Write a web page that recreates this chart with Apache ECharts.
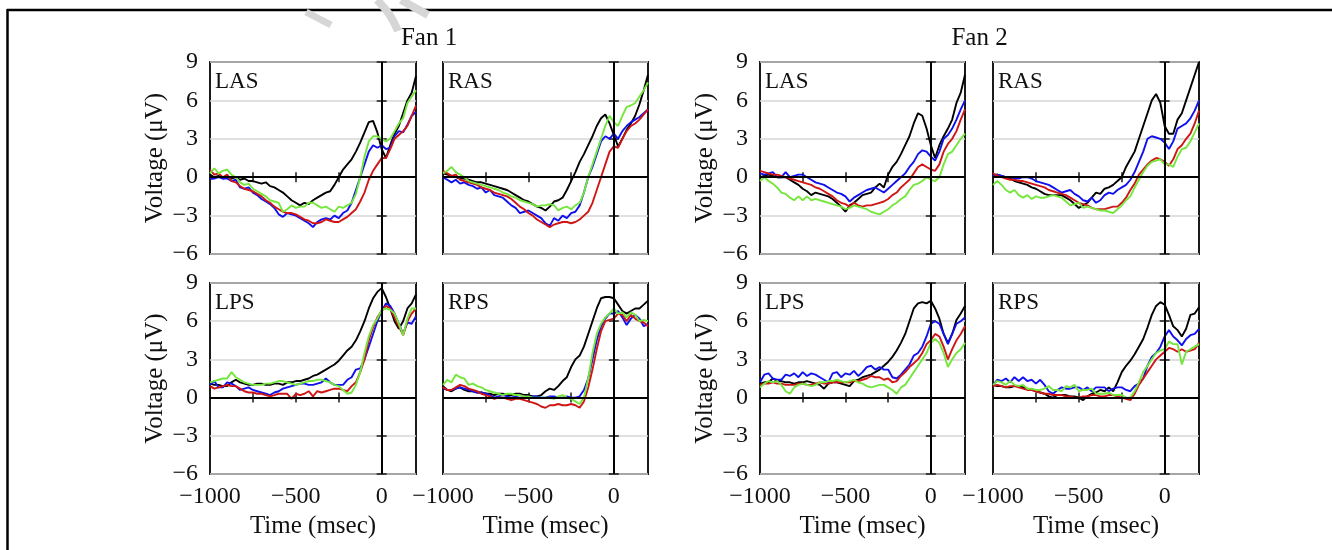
<!DOCTYPE html>
<html><head><meta charset="utf-8">
<script src="https://cdn.jsdelivr.net/npm/echarts@6/dist/echarts.min.js"></script>
<style>html,body{margin:0;padding:0;background:#fff}#c{width:1332px;height:550px}</style>
</head><body><div id="c"></div>
<script>
// ---- data ----
const timeMs = [-1000,-975,-950,-925,-900,-875,-850,-825,-800,-775,-750,-725,-700,-675,-650,-625,-600,-575,-550,-525,-500,-475,-450,-425,-400,-375,-350,-325,-300,-275,-250,-225,-200,-175,-150,-125,-100,-75,-50,-25,0,25,50,75,100,125,150,175,200];
const xTickLabels = {'-1000':'−1000','-500':'−500','0':'0'};
const yTickLabels = {'9':'9','6':'6','3':'3','0':'0','-3':'−3','-6':'−6'};
const fanTitles = ['Fan 1','Fan 2'];
const panelNames = ['LAS','RAS','LPS','RPS','LAS','RAS','LPS','RPS'];

// Fan 1 LAS
const f1LAS_black = [0.2,0.0,0.1,-0.1,0.0, -0.1,0.0,-0.2,-0.1,-0.3, -0.3,-0.4,-0.5,-0.4,-0.7, -0.8,-1.0,-1.2,-1.5,-1.8, -2.0,-2.2,-2.0,-2.1,-1.8, -1.6,-1.4,-1.2,-1.1,-0.6, 0.0,0.6,1.0,1.4,2.0, 2.7,3.5,4.3,4.4,3.5, 2.2,1.5,2.5,3.4,4.0, 5.0,6.0,6.6,7.9];
const f1LAS_blue  = [-0.15,-0.1,0.0,-0.1,-0.1, -0.3,-0.2,-0.8,-0.9,-0.8, -1.2,-1.4,-1.7,-1.9,-2.1, -2.4,-2.9,-3.1,-2.8,-2.9, -3.0,-3.2,-3.4,-3.6,-3.9, -3.5,-3.3,-3.2,-3.3,-3.0, -3.2,-2.8,-2.6,-2.0,-1.0, 0.0,1.0,2.0,2.5,2.3, 2.5,2.2,2.3,3.2,3.6, 3.5,4.1,4.8,5.1];
const f1LAS_red   = [0.6,0.2,0.3,0.0,0.2, -0.3,-0.4,-0.7,-0.9,-1.0, -1.1,-1.3,-1.5,-1.8,-2.0, -2.3,-2.5,-2.7,-2.8,-2.8, -2.9,-3.1,-3.3,-3.4,-3.6, -3.6,-3.5,-3.3,-3.4,-3.5, -3.5,-3.3,-3.1,-2.8,-2.5, -1.9,-1.2,-0.2,0.5,1.0, 1.5,1.5,2.2,3.0,3.3, 3.6,4.0,4.8,5.6];
const f1LAS_green = [0.3,0.7,0.3,0.5,0.6, 0.2,0.0,-0.4,-0.6,-0.5, -0.9,-1.1,-1.3,-1.5,-1.8, -1.9,-2.0,-2.7,-2.5,-2.2, -2.4,-2.3,-2.3,-2.0,-2.0, -2.2,-2.4,-2.3,-2.5,-2.7, -2.3,-2.4,-2.2,-2.0,-1.3, 0.0,1.6,2.8,3.2,3.2, 3.0,2.8,3.0,3.6,4.2, 4.6,5.8,6.3,6.8];
// Fan 1 RAS
const f1RAS_black = [0.3,0.2,0.1,0.0,-0.1, -0.1,-0.2,-0.3,-0.4,-0.4, -0.5,-0.6,-0.7,-0.8,-0.9, -1.0,-1.2,-1.4,-1.6,-1.8, -1.9,-2.1,-2.3,-2.4,-2.6, -2.3,-1.9,-1.8,-1.6,-1.0, -0.3,0.4,1.2,1.8,2.5, 3.2,4.0,4.6,4.9,4.2, 3.3,2.4,3.0,3.7,4.2, 4.8,5.7,6.8,8.0];
const f1RAS_blue  = [0.0,-0.2,-0.4,-0.2,-0.5, -0.4,-0.6,-0.7,-0.9,-0.8, -1.2,-1.0,-1.4,-1.5,-1.6, -1.9,-2.2,-2.4,-2.8,-2.7, -2.6,-2.8,-3.0,-3.2,-3.6, -3.8,-3.2,-3.4,-3.0,-3.2, -2.8,-2.7,-2.2,-1.2,0.0, 0.8,1.8,2.8,3.2,3.0, 3.4,3.0,3.6,4.0,4.3, 4.5,4.7,5.0,5.3];
const f1RAS_red   = [0.5,0.3,0.1,0.2,-0.2, -0.3,-0.4,-0.5,-0.6,-0.8, -0.9,-1.0,-1.2,-1.3,-1.4, -1.5,-1.7,-2.0,-2.3,-2.5, -2.8,-3.0,-3.3,-3.5,-3.7, -3.9,-3.7,-3.6,-3.5,-3.5, -3.6,-3.5,-3.3,-3.0,-2.7, -2.0,-1.0,0.0,1.0,2.0, 2.4,2.3,3.0,3.6,4.0, 4.2,4.5,4.9,5.3];
const f1RAS_green = [0.3,0.5,0.8,0.4,0.2, 0.0,-0.3,-0.4,-0.5,-0.6, -0.7,-0.8,-0.9,-1.0,-1.2, -1.3,-1.5,-1.6,-1.8,-1.9, -2.0,-2.1,-2.3,-2.2,-2.2, -2.1,-2.2,-2.6,-2.4,-2.3, -2.5,-2.2,-2.0,-1.2,0.0, 1.0,2.0,3.0,4.0,4.8, 4.3,4.0,4.8,5.5,5.6, 5.8,6.3,6.8,7.4];
// Fan 1 LPS
const f1LPS_black = [1.1,1.0,1.0,0.9,0.9, 1.2,1.4,1.2,1.1,1.0, 1.0,1.1,1.1,1.0,1.0, 1.1,1.1,1.0,1.2,1.2, 1.3,1.3,1.4,1.5,1.7, 1.8,2.0,2.2,2.4,2.6, 2.9,3.3,3.7,4.0,4.5, 5.2,6.0,7.0,7.8,8.3, 8.6,7.9,7.0,6.0,5.4, 6.0,7.0,7.4,8.1];
const f1LPS_blue  = [1.0,1.3,0.8,0.8,1.2, 1.1,0.9,0.6,0.7,0.8, 0.6,0.5,0.4,0.3,0.2, 0.4,0.5,0.7,0.8,0.9, 1.0,1.1,1.1,1.0,1.0, 1.1,1.2,1.5,1.2,1.0, 1.0,1.0,1.4,1.6,2.2, 2.3,3.0,4.0,5.0,6.0, 6.8,7.4,7.2,6.6,5.8, 5.0,5.9,5.8,6.4];
const f1LPS_red   = [0.9,0.7,0.8,0.9,1.0, 0.9,0.9,0.7,0.5,0.4, 0.4,0.3,0.3,0.2,0.1, 0.2,0.3,0.3,0.3,-0.1, 0.3,0.2,0.3,0.5,0.1, 0.5,0.4,0.5,0.6,0.7, 0.7,0.6,0.5,0.9,1.2, 2.0,3.0,4.5,5.5,6.3, 6.8,7.2,7.0,6.3,5.6, 4.9,6.0,6.6,7.0];
const f1LPS_green = [1.2,1.3,1.4,1.5,1.5, 2.0,1.6,1.4,1.2,1.1, 1.0,1.0,1.0,1.1,1.1, 1.2,1.3,1.3,1.2,1.1, 1.0,1.1,1.2,1.3,1.3, 1.4,1.4,1.3,1.2,1.0, 0.9,0.6,0.3,0.4,1.0, 2.0,3.5,4.8,5.7,6.2, 6.9,7.0,6.9,6.6,5.8, 4.9,6.2,7.0,7.0];
// Fan 1 RPS
const f1RPS_black = [0.9,0.6,0.5,0.7,0.8, 0.6,0.5,0.5,0.4,0.4, 0.3,0.3,0.2,0.3,0.3, 0.2,0.2,0.3,0.3,0.2, 0.2,0.1,0.1,0.2,0.5, 0.7,0.6,0.9,1.3,1.6, 2.4,3.0,3.3,4.0,5.0, 6.0,7.0,7.8,7.9,7.9, 7.8,7.3,6.8,6.6,6.8, 7.0,7.0,7.3,7.6];
const f1RPS_blue  = [0.7,0.6,0.6,0.7,0.8, 0.7,0.6,0.5,0.4,0.4, 0.3,0.2,0.0,0.1,0.2, 0.1,0.0,0.1,0.2,0.1, 0.0,0.1,0.1,0.0,0.0, 0.1,0.1,0.0,0.0,0.1, 0.0,0.0,0.1,0.6,1.5, 3.0,4.5,5.6,6.2,6.6, 6.6,6.8,6.3,5.7,6.2, 6.5,6.2,5.6,5.8];
const f1RPS_red   = [0.8,0.6,0.6,0.8,1.0, 0.9,0.7,0.6,0.5,0.3, 0.2,0.1,-0.1,0.0,0.0, -0.1,-0.2,-0.1,-0.1,-0.2, -0.3,-0.4,-0.5,-0.7,-0.8, -0.6,-0.6,-0.5,-0.6,-0.6, -0.5,-0.6,-0.8,-0.3,0.8, 2.2,3.8,5.2,6.0,6.1, 6.2,6.6,6.5,6.0,6.5, 6.2,6.0,5.9,5.6];
const f1RPS_green = [1.0,1.4,1.2,1.8,1.6, 1.5,1.0,1.1,0.9,0.8, 0.6,0.5,0.4,0.3,0.2, 0.3,0.3,0.2,0.2,0.1, 0.1,0.0,0.0,0.0,0.0, 0.0,-0.1,0.1,0.2,0.0, -0.1,-0.3,-0.5,0.0,1.5, 3.5,5.0,5.8,6.3,6.6, 7.0,6.6,6.7,6.3,6.7, 6.5,6.0,6.1,6.0];
// Fan 2 LAS
const f2LAS_black = [0.0,0.1,0.2,0.1,0.0, 0.0,0.0,-0.2,-0.4,-0.6, -0.9,-1.1,-1.4,-1.2,-1.3, -1.4,-1.5,-1.7,-2.0,-2.3, -2.7,-2.2,-2.0,-1.7,-1.4, -1.3,-1.2,-0.8,-0.5,-0.8, 0.2,0.8,1.2,1.8,2.5, 3.2,4.2,5.0,4.8,3.8, 2.5,1.5,2.5,3.2,3.8, 4.5,5.8,6.6,8.0];
const f2LAS_blue  = [0.3,0.2,0.3,0.4,0.0, 0.0,0.4,0.0,0.1,0.2, 0.2,0.0,-0.2,-0.4,-0.5, -0.6,-0.8,-1.0,-1.2,-1.3, -1.5,-1.9,-1.6,-1.4,-1.2, -1.0,-0.9,-0.8,-1.0,-1.2, -0.9,-0.6,-0.3,0.0,0.3, 0.8,1.2,1.8,2.1,2.0, 1.6,1.3,2.0,3.0,3.3, 3.8,4.5,5.3,6.0];
const f2LAS_red   = [0.5,0.4,0.3,0.2,0.2, 0.1,0.0,-0.1,-0.2,-0.3, -0.4,-0.5,-0.6,-0.8,-0.9, -1.1,-1.3,-1.5,-1.8,-2.0, -2.1,-2.3,-2.0,-2.2,-2.3, -2.2,-2.2,-2.1,-2.0,-1.9, -1.7,-1.4,-1.2,-0.8,-0.5, -0.2,0.3,0.8,1.0,0.8, 0.6,0.5,1.0,2.0,2.6, 3.0,3.6,4.5,5.3];
const f2LAS_green = [-0.3,0.0,-0.3,-0.5,-0.8, -1.2,-1.3,-1.6,-1.8,-1.5, -1.8,-1.5,-1.8,-1.7,-1.8, -1.9,-2.0,-2.1,-2.2,-2.3, -2.5,-2.4,-2.2,-2.3,-2.4, -2.5,-2.7,-2.8,-2.9,-2.7, -2.5,-2.2,-2.0,-1.7,-1.5, -1.0,-0.6,-0.5,-0.3,0.0, -0.2,-0.3,0.0,1.0,1.8, 2.0,2.5,3.0,3.4];
// Fan 2 RAS
const f2RAS_black = [0.2,0.2,0.1,0.0,-0.1, -0.3,-0.4,-0.5,-0.6,-0.8, -0.9,-1.1,-1.3,-1.4,-1.4, -1.4,-1.4,-1.6,-1.8,-2.1, -2.4,-2.2,-2.0,-1.6,-1.2, -1.3,-0.9,-0.8,-0.6,-0.3, 0.0,0.8,1.4,2.0,3.0, 4.0,5.0,6.0,6.5,5.8, 4.0,3.4,3.4,4.5,5.0, 6.0,7.0,8.0,9.0];
const f2RAS_blue  = [0.1,0.2,0.1,0.0,0.0, -0.1,-0.1,0.0,0.0,-0.1, -0.3,-0.4,-0.5,-0.6,-0.8, -1.0,-1.2,-1.1,-1.0,-1.3, -1.5,-1.8,-1.9,-1.6,-2.0, -1.8,-1.4,-1.2,-1.3,-1.0, -0.8,-0.6,-0.2,0.4,1.2, 2.0,3.0,3.2,3.1,3.0, 2.7,2.2,2.8,3.8,4.0, 4.2,4.6,5.2,6.0];
const f2RAS_red   = [0.3,0.1,0.0,-0.1,-0.2, -0.2,-0.3,-0.3,-0.4,-0.5, -0.6,-0.7,-0.8,-1.0,-1.1, -1.2,-1.3,-1.4,-1.6,-1.8, -2.0,-2.1,-2.2,-2.4,-2.5, -2.5,-2.5,-2.4,-2.3,-2.3, -2.0,-1.6,-1.0,-0.5,0.2, 0.6,1.0,1.3,1.5,1.4, 1.2,0.9,1.4,2.2,2.5, 3.0,3.4,4.2,5.2];
const f2RAS_green = [-0.6,-0.3,-0.6,-1.0,-1.2, -1.0,-1.4,-1.6,-1.4,-1.7, -1.5,-1.6,-1.6,-1.5,-1.4, -1.5,-1.6,-1.9,-2.2,-2.1, -2.0,-2.4,-2.3,-2.4,-2.5, -2.6,-2.6,-2.7,-2.8,-2.5, -2.2,-1.8,-1.5,-0.8,-0.2, 0.4,0.9,1.2,1.3,1.4, 1.0,1.0,0.8,1.6,2.2, 2.3,2.8,3.5,4.2];
// Fan 2 LPS
const f2LPS_black = [1.1,1.2,1.2,1.5,1.3, 1.3,1.2,1.2,1.1,1.2, 1.2,1.3,1.2,1.1,1.0, 0.7,1.1,1.2,1.2,1.1, 1.0,0.9,1.3,1.4,1.6, 1.7,1.8,2.0,2.2,2.5, 2.8,3.2,3.7,4.3,5.0, 6.0,7.0,7.4,7.5,7.4, 7.6,7.0,6.2,5.0,4.3, 5.0,6.1,6.6,7.2];
const f2LPS_blue  = [1.2,1.8,1.9,1.5,1.4, 1.4,1.8,1.7,1.9,1.6, 2.0,1.7,1.9,1.8,1.6, 1.4,1.2,1.9,2.0,1.6, 1.9,1.8,2.1,1.7,2.0, 2.4,2.5,2.2,2.4,2.2, 2.2,1.6,1.5,1.8,2.2, 2.6,3.3,3.5,4.0,4.8, 5.8,6.0,5.8,5.0,4.2, 5.0,5.8,6.0,6.3];
const f2LPS_red   = [1.0,1.1,1.1,1.2,1.1, 1.1,1.0,1.0,1.0,1.1, 1.1,1.0,1.0,1.1,1.2, 1.1,1.1,1.2,1.2,1.2, 1.2,1.2,1.3,1.3,1.4, 1.5,1.7,1.6,1.6,1.4, 1.5,1.2,1.3,1.7,2.0, 2.4,2.7,3.0,3.5,4.2, 4.5,5.0,4.8,4.0,3.0, 3.8,4.5,5.0,5.6];
const f2LPS_green = [0.8,1.1,1.3,1.2,1.3, 1.0,0.5,0.3,0.8,1.0, 1.1,1.0,0.9,1.0,1.2, 1.2,1.3,1.3,1.4,1.3, 1.2,1.3,1.4,1.2,1.1, 0.9,0.8,0.9,1.0,1.0, 0.8,0.6,0.3,0.8,1.0, 1.5,2.0,2.5,3.0,3.5, 4.3,4.6,4.3,3.5,2.4, 3.0,3.5,3.8,4.3];
// Fan 2 RPS
const f2RPS_black = [1.0,0.9,0.9,0.8,0.8, 0.9,0.9,0.8,0.7,0.6, 0.5,0.4,0.3,0.1,0.0, 0.2,0.2,0.2,0.1,0.1, 0.0,-0.2,0.1,0.3,0.4, 0.6,0.5,0.8,0.5,1.2, 2.0,2.5,2.9,3.4,4.0, 4.6,5.5,6.5,7.2,7.5, 7.3,6.5,5.6,5.3,4.8, 5.4,6.5,6.6,7.1];
const f2RPS_blue  = [1.0,1.4,1.3,1.5,1.2, 1.6,1.3,1.6,1.3,1.4, 1.1,1.4,1.0,0.5,0.3, 0.6,0.8,0.7,0.7,0.8, 0.8,0.6,0.8,0.5,0.8, 0.8,0.8,0.5,0.7,0.8, 0.8,0.6,0.5,0.9,1.1, 1.5,2.5,3.2,3.5,4.0, 4.8,5.3,4.8,4.5,4.1, 4.6,4.9,5.0,5.4];
const f2RPS_red   = [0.9,1.0,0.9,0.8,0.9, 0.9,0.8,0.7,0.6,0.6, 0.5,0.4,0.3,0.3,0.2, 0.2,0.2,0.1,0.1,0.0, 0.0,0.1,0.1,0.2,0.2, 0.1,0.1,0.2,0.2,0.1, 0.0,-0.1,-0.2,0.3,1.0, 1.5,2.0,2.5,3.0,3.3, 3.6,3.9,3.8,3.6,3.8, 3.6,3.7,3.8,4.3];
const f2RPS_green = [1.0,1.3,1.2,1.0,1.3, 1.0,0.9,1.0,0.7,0.7, 0.6,0.6,0.7,0.9,0.6, 0.6,0.5,0.9,0.8,1.0, 0.5,0.6,0.6,0.7,0.3, 0.3,0.3,0.4,0.2,0.2, 0.2,0.0,0.0,0.5,1.2, 2.0,2.5,3.0,3.5,3.7, 3.8,4.4,4.2,4.2,2.6, 3.6,3.8,4.0,4.2];

const panelSeries = [
  [f1LAS_black,f1LAS_blue,f1LAS_red,f1LAS_green],
  [f1RAS_black,f1RAS_blue,f1RAS_red,f1RAS_green],
  [f1LPS_black,f1LPS_blue,f1LPS_red,f1LPS_green],
  [f1RPS_black,f1RPS_blue,f1RPS_red,f1RPS_green],
  [f2LAS_black,f2LAS_blue,f2LAS_red,f2LAS_green],
  [f2RAS_black,f2RAS_blue,f2RAS_red,f2RAS_green],
  [f2LPS_black,f2LPS_blue,f2LPS_red,f2LPS_green],
  [f2RPS_black,f2RPS_blue,f2RPS_red,f2RPS_green]
];

// ---- styling / layout ----
const lineColors = ['#000000','#1010ee','#d01515','#74e63c'];
const FONT = 'Liberation Serif';
const colLeft = [210, 443, 760, 993];
const colWidth = [206, 205, 205, 206];
const rowTop = [62, 283];
const rowHeight = [192, 191];
const panelPos = [[0,0],[1,0],[0,1],[1,1],[2,0],[3,0],[2,1],[3,1]]; // [col,row]

const grids = [], xAxes = [], yAxes = [], series = [], graphics = [];
panelPos.forEach(([c, r], i) => {
  grids.push({left: colLeft[c], top: rowTop[r], width: colWidth[c], height: rowHeight[r],
             show: true, borderColor: '#1a1a1a', borderWidth: 2, backgroundColor: 'transparent'});
  const isBottom = r === 1, isLeft = (c === 0 || c === 2);
  const tick = {show: true, inside: true, length: 5, lineStyle: {color: '#1a1a1a', width: 1.5}};
  xAxes.push({
    type: 'value', gridIndex: i, min: -1000, max: 200, interval: 250, position: 'bottom',
    axisLine: {show: false}, axisTick: tick, splitLine: {show: false},
    axisLabel: {show: isBottom, margin: 11, color: '#111', fontFamily: FONT, fontSize: 24,
                formatter: v => xTickLabels[String(v)] || ''},
    name: isBottom ? 'Time (msec)' : '', nameLocation: 'middle', nameGap: 40,
    nameTextStyle: {color: '#111', fontFamily: FONT, fontSize: 25}
  });
  xAxes.push({
    type: 'value', gridIndex: i, min: -1000, max: 200, interval: 250, position: 'top',
    axisLine: {show: false}, axisTick: tick, splitLine: {show: false}, axisLabel: {show: false}
  });
  yAxes.push({
    type: 'value', gridIndex: i, min: -6, max: 9, interval: 3, position: 'left',
    axisLine: {show: false}, axisTick: tick,
    splitLine: {show: true, lineStyle: {color: '#d6d6d6', width: 1.5}},
    axisLabel: {show: isLeft, margin: 12, color: '#111', fontFamily: FONT, fontSize: 24,
                formatter: v => yTickLabels[String(v)] || ''},
    name: isLeft ? 'Voltage (μV)' : '', nameLocation: 'middle', nameGap: 42,
    nameTextStyle: {color: '#111', fontFamily: FONT, fontSize: 25}
  });
  yAxes.push({
    type: 'value', gridIndex: i, min: -6, max: 9, interval: 3, position: 'right',
    axisLine: {show: false}, axisTick: tick, splitLine: {show: false}, axisLabel: {show: false}
  });
  panelSeries[i].forEach((vals, k) => {
    const s = {
      type: 'line', xAxisIndex: 2 * i, yAxisIndex: 2 * i, showSymbol: false, symbol: 'none',
      smooth: false, animation: false, silent: true,
      lineStyle: {color: lineColors[k], width: 1.9},
      data: timeMs.map((t, j) => [t, vals[j]])
    };
    if (k === 0) {
      s.markLine = {silent: true, symbol: ['none', 'none'], label: {show: false}, animation: false,
        lineStyle: {color: '#000', width: 2, type: 'solid'},
        data: [{yAxis: 0}, {xAxis: 0}]};
    }
    series.push(s);
  });
  graphics.push({type: 'text', left: colLeft[c] + 5, top: rowTop[r] + 8,
    style: {text: panelNames[i], fill: '#111', font: '23px "' + FONT + '"'}});
});

// Fan titles
graphics.push({type: 'text', x: (colLeft[0] + colLeft[1] + colWidth[1]) / 2, y: 38,
  style: {text: fanTitles[0], fill: '#111', font: '25px "' + FONT + '"', align: 'center', verticalAlign: 'middle'}});
graphics.push({type: 'text', x: (colLeft[2] + colLeft[3] + colWidth[3]) / 2, y: 38,
  style: {text: fanTitles[1], fill: '#111', font: '25px "' + FONT + '"', align: 'center', verticalAlign: 'middle'}});
// page frame
graphics.push({type: 'line', shape: {x1: 7, y1: 10, x2: 1332, y2: 10}, style: {stroke: '#000', lineWidth: 2.5}});
graphics.push({type: 'line', shape: {x1: 7.5, y1: 9, x2: 7.5, y2: 550}, style: {stroke: '#000', lineWidth: 2.5}});
// faint watermark strokes
graphics.push({type: 'polyline', shape: {points: [[306, 12], [331, 25]]}, style: {stroke: '#d6d6d6', lineWidth: 7, fill: null}});
graphics.push({type: 'polyline', shape: {smooth: 0.4, points: [[377, 0], [389, 14], [398, 31]]}, style: {stroke: '#d6d6d6', lineWidth: 8, fill: null}});
graphics.push({type: 'polyline', shape: {points: [[401, 0], [428, 15]]}, style: {stroke: '#d6d6d6', lineWidth: 8, fill: null}});

const chart = echarts.init(document.getElementById('c'), null, {renderer: 'canvas'});
chart.setOption({
  animation: false, backgroundColor: '#ffffff',
  grid: grids, xAxis: xAxes, yAxis: yAxes, series: series, graphic: graphics
});
</script></body></html>
